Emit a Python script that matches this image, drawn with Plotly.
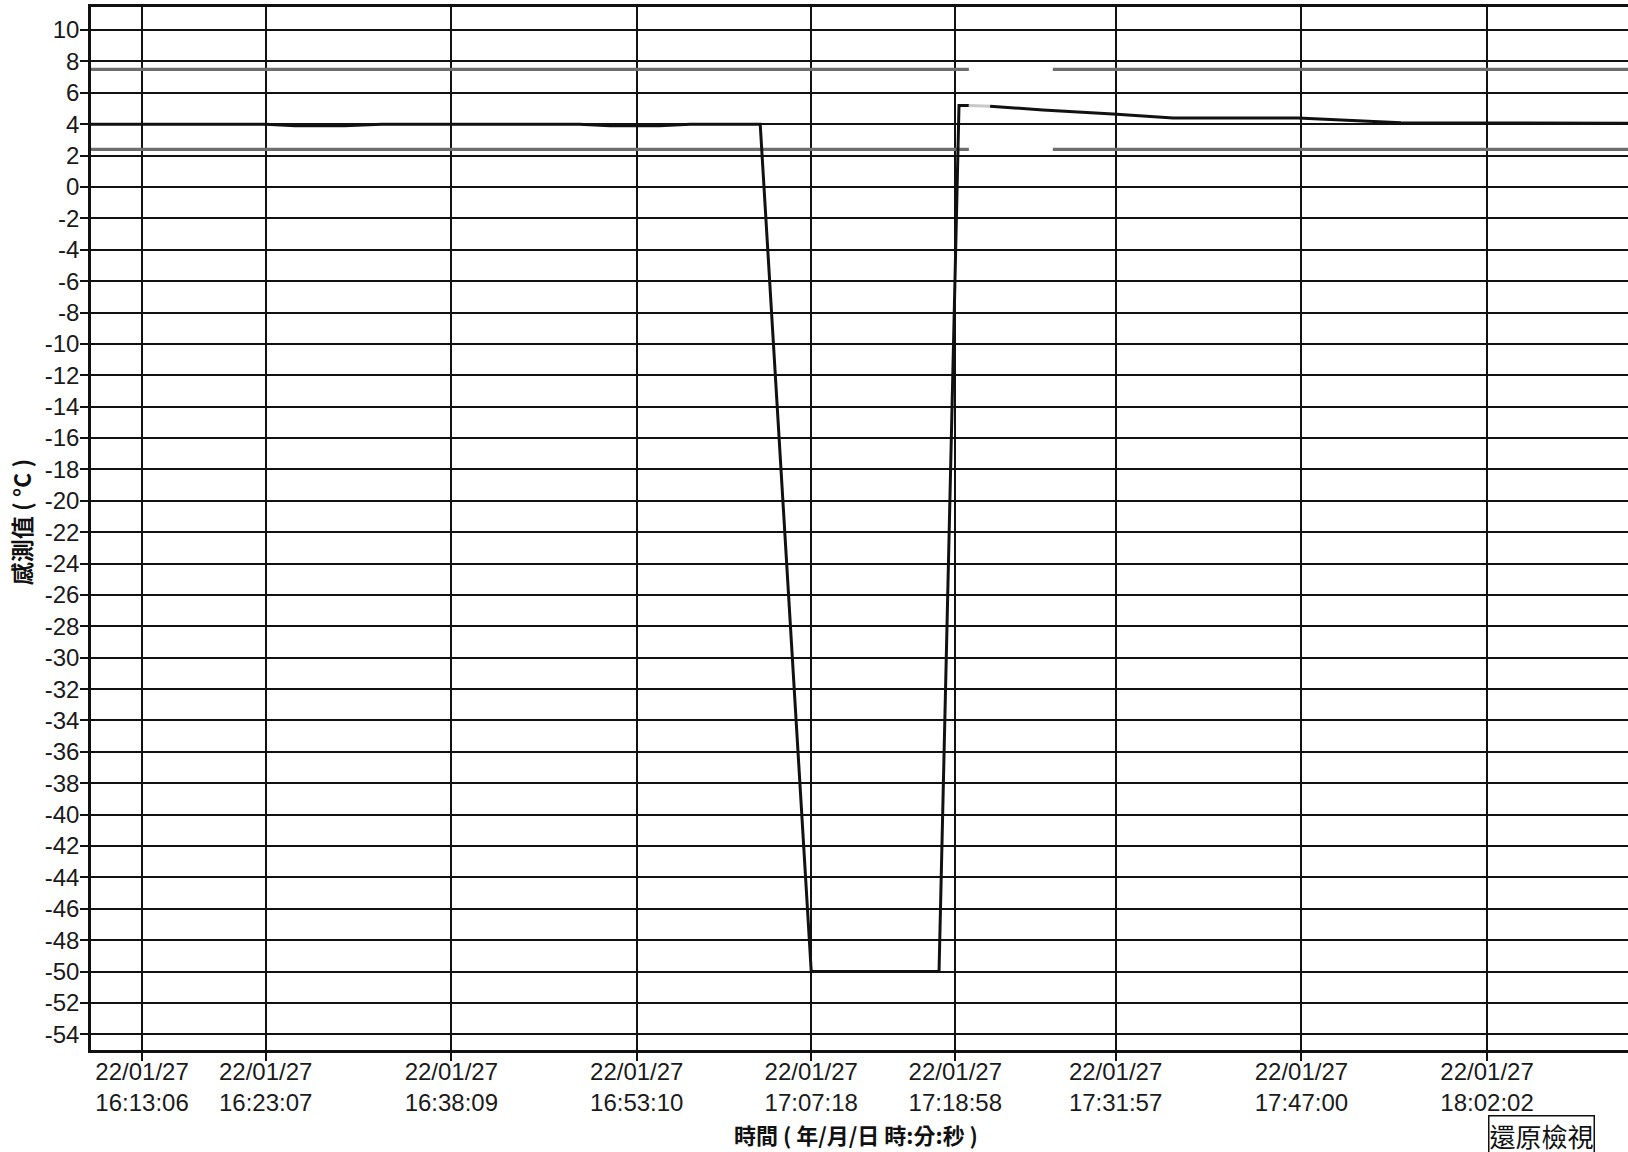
import plotly.graph_objects as go

DATE = "2022-01-27 "

# --- sensor readings (time, °C) ---
main_times = ["16:08:06", "16:13:06", "16:23:07", "16:25:30", "16:29:30", "16:32:30",
              "16:38:09", "16:48:30", "16:51:00", "16:55:00", "16:57:30", "17:03:10",
              "17:07:18", "17:17:39", "17:19:16", "17:20:04"]
main_values = [4.0, 4.0, 4.0, 3.9, 3.9, 4.0,
               4.0, 4.0, 3.9, 3.9, 4.0, 4.0,
               -50.0, -50.0, 5.2, 5.2]

faint_times = ["17:20:04", "17:21:47"]
faint_values = [5.2, 5.15]

tail_times = ["17:21:47", "17:26:04", "17:31:44", "17:36:36", "17:46:43", "17:55:04", "18:16:00"]
tail_values = [5.15, 4.9, 4.65, 4.4, 4.4, 4.1, 4.05]

# --- alarm limits (with a gap where no limit was recorded) ---
limit_times = ["16:08:00", "17:20:04", "17:23:00", "17:26:52", "18:16:00"]
upper_limit = [7.5, 7.5, None, 7.5, 7.5]
lower_limit = [2.4, 2.4, None, 2.4, 2.4]

# --- axes ---
x_tick_times = ["16:13:06", "16:23:07", "16:38:09", "16:53:10", "17:07:18",
                "17:18:58", "17:31:57", "17:47:00", "18:02:02"]
x_tick_date = "22/01/27"
y_ticks = list(range(10, -56, -2))
x_range = ["16:08:58", "18:13:27"]
y_range = [-55.0, 11.47]

fig = go.Figure()

def full(ts):
    return [DATE + t for t in ts]

limit_style = dict(color="#6e6e6e", width=3.2)
fig.add_trace(go.Scatter(x=full(limit_times), y=upper_limit, mode="lines",
                         line=limit_style, connectgaps=False, hoverinfo="skip"))
fig.add_trace(go.Scatter(x=full(limit_times), y=lower_limit, mode="lines",
                         line=limit_style, connectgaps=False, hoverinfo="skip"))
fig.add_trace(go.Scatter(x=full(main_times), y=main_values, mode="lines",
                         line=dict(color="#111111", width=3)))
fig.add_trace(go.Scatter(x=full(faint_times), y=faint_values, mode="lines",
                         line=dict(color="#c8c8c8", width=3)))
fig.add_trace(go.Scatter(x=full(tail_times), y=tail_values, mode="lines",
                         line=dict(color="#111111", width=3)))

fig.update_xaxes(
    type="date",
    range=full(x_range),
    tickmode="array",
    tickvals=full(x_tick_times),
    ticktext=[f"{x_tick_date}<br>{t}" for t in x_tick_times],
    tickfont=dict(family="Liberation Sans, Arial, sans-serif", size=24, color="#1a1a1a"),
    ticks="outside", ticklen=8, tickwidth=2, tickcolor="#111111",
    ticklabelstandoff=-10,
    showgrid=True, gridcolor="#111111", gridwidth=1.6,
    showline=True, linecolor="#111111", linewidth=3, mirror=True,
    zeroline=False,
)
fig.update_yaxes(
    range=y_range,
    tickmode="array",
    tickvals=y_ticks,
    ticktext=[str(v) for v in y_ticks],
    tickfont=dict(family="Liberation Sans, Arial, sans-serif", size=24, color="#1a1a1a"),
    ticks="outside", ticklen=8, tickwidth=2, tickcolor="#111111",
    ticklabelstandoff=-4,
    showgrid=True, gridcolor="#111111", gridwidth=1.6,
    showline=True, linecolor="#111111", linewidth=2.5, mirror=False,
    zeroline=False,
)

cjk = "Noto Sans CJK TC, Noto Sans CJK SC, sans-serif"
fig.add_annotation(text="時間 ( 年/月/日 時:分:秒 )", xref="paper", yref="paper",
                   x=0.4974, y=-0.0805, xanchor="center", yanchor="middle",
                   showarrow=False, font=dict(family=cjk, size=22, color="#111111", weight="bold"))
fig.add_annotation(text="感測值 ( °C )", xref="paper", yref="paper",
                   x=-0.0455, y=0.506, xanchor="center", yanchor="middle", textangle=-90,
                   showarrow=False, font=dict(family=cjk, size=23, color="#111111", weight="bold"))
fig.add_annotation(text="還原檢視", xref="paper", yref="paper",
                   x=0.9089, y=-0.0625, xanchor="left", yanchor="top",
                   showarrow=False, bordercolor="#111111", borderwidth=1.5, borderpad=0,
                   bgcolor="white", font=dict(family=cjk, size=26, color="#111111"))

fig.update_layout(
    width=1628, height=1152,
    margin=dict(l=91, r=0, t=7, b=102),
    paper_bgcolor="white", plot_bgcolor="white",
    showlegend=False,
)

fig.write_html("out.html", config={"displayModeBar": False},
               post_script="document.body.style.margin='0';document.body.style.overflow='hidden';")
